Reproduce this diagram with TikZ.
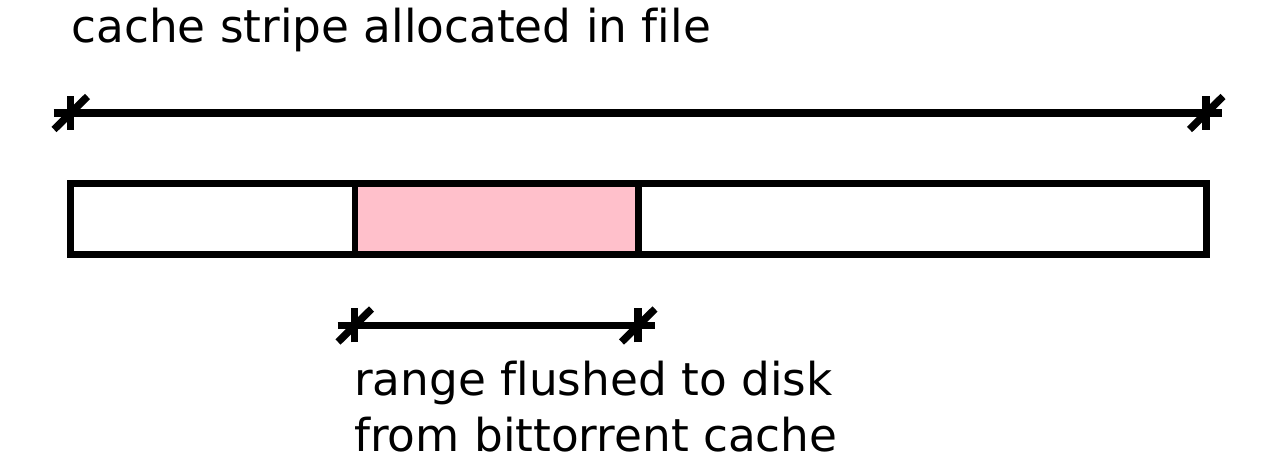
\documentclass[tikz,border=0pt]{standalone}
\usepackage{fontspec}
\setmainfont{DejaVu Sans}[Ligatures=NoCommon]
\usetikzlibrary{positioning}
\definecolor{flushpink}{RGB}{255,192,203}

\tikzset{%
  block/.style={draw, line width=3.8pt, minimum height=1.42cm, inner sep=0pt, outer sep=0pt},
  rangeline/.style={draw, line width=4pt},
  tickmark/.style={draw, line width=4.2pt},
  caption/.style={inner sep=0pt, anchor=base west, font=\fontsize{25.8}{30}\selectfont},
}

\begin{document}
\begin{tikzpicture}
\useasboundingbox (0,0) rectangle (25.58,9.24);
% title
\node[caption] (title) at (1.42,8.39) {cache stripe allocated in file};
% stripe ends
\coordinate (s1) at (1.41,6.98);
\coordinate (s2) at (24.12,6.98);
\draw[rangeline] ([xshift=-0.34cm]s1) -- ([xshift=0.32cm]s2);
% the stripe
\node[block, minimum width=5.69cm, anchor=north west] (left) at (1.41,5.57) {};
\node[block, minimum width=5.67cm, fill=flushpink, right=0pt of left] (flushed) {};
\node[block, minimum width=11.36cm, right=0pt of flushed] (right) {};
% flushed range
\coordinate (r1) at (7.09,2.73);
\coordinate (r2) at (12.76,2.73);
\draw[rangeline] ([xshift=-0.34cm]r1) -- ([xshift=0.34cm]r2);
\foreach \p in {s1,s2,r1,r2}{
  \draw[tickmark] ([yshift=-0.34cm]\p) -- ([yshift=0.34cm]\p);
  \draw[tickmark] ([shift={(-0.33cm,-0.33cm)}]\p) -- ([shift={(0.34cm,0.33cm)}]\p);
}
\node[caption] (note1) at (7.08,1.32) {range flushed to disk};
\node[caption] (note2) at ([yshift=-1.12cm]note1.base west) {from bittorrent cache};
\end{tikzpicture}
\end{document}
